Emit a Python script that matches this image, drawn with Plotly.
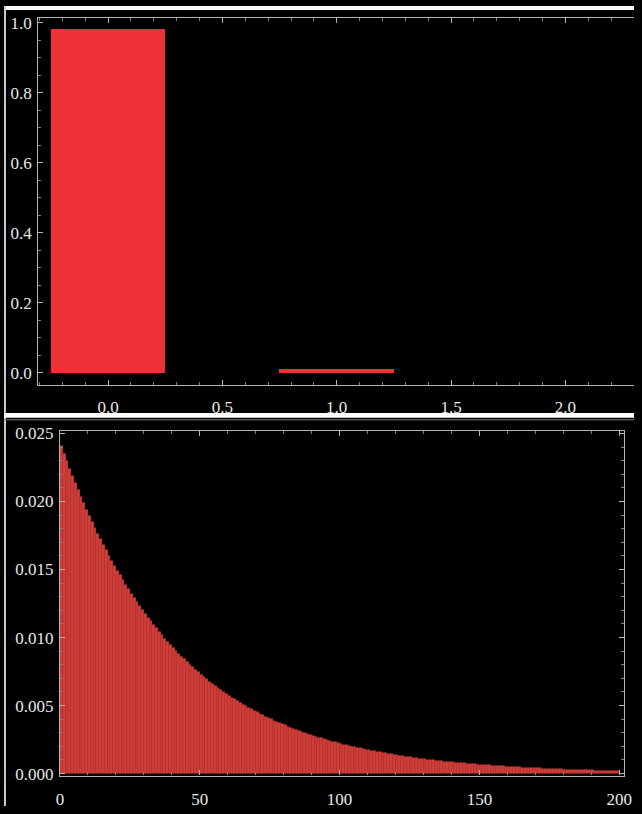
import plotly.graph_objects as go
from plotly.subplots import make_subplots

# ---- data ----
top_x = [0, 1]
top_y = [0.983, 0.011]

bottom_x = list(range(200))
bottom_y = [
    0.024100, 0.023531, 0.022976, 0.022434, 0.021905, 0.021388, 0.020883, 0.020390, 0.019909, 0.019439,
    0.018980, 0.018532, 0.018095, 0.017668, 0.017251, 0.016844, 0.016447, 0.016059, 0.015680, 0.015310,
    0.014949, 0.014596, 0.014252, 0.013916, 0.013588, 0.013267, 0.012954, 0.012648, 0.012350, 0.012059,
    0.011774, 0.011496, 0.011225, 0.010960, 0.010701, 0.010449, 0.010202, 0.009961, 0.009726, 0.009497,
    0.009273, 0.009054, 0.008840, 0.008631, 0.008427, 0.008228, 0.008034, 0.007844, 0.007659, 0.007478,
    0.007302, 0.007130, 0.006962, 0.006798, 0.006638, 0.006481, 0.006328, 0.006179, 0.006033, 0.005891,
    0.005752, 0.005616, 0.005484, 0.005355, 0.005229, 0.005106, 0.004986, 0.004868, 0.004753, 0.004641,
    0.004532, 0.004425, 0.004321, 0.004219, 0.004119, 0.004022, 0.003927, 0.003834, 0.003744, 0.003656,
    0.003570, 0.003486, 0.003404, 0.003324, 0.003246, 0.003169, 0.003094, 0.003021, 0.002950, 0.002880,
    0.002812, 0.002746, 0.002681, 0.002618, 0.002556, 0.002496, 0.002437, 0.002380, 0.002324, 0.002269,
    0.002216, 0.002164, 0.002113, 0.002063, 0.002014, 0.001966, 0.001920, 0.001875, 0.001831, 0.001788,
    0.001746, 0.001705, 0.001665, 0.001626, 0.001588, 0.001550, 0.001513, 0.001477, 0.001442, 0.001408,
    0.001375, 0.001343, 0.001311, 0.001280, 0.001250, 0.001221, 0.001192, 0.001164, 0.001136, 0.001109,
    0.001083, 0.001057, 0.001032, 0.001008, 0.000984, 0.000961, 0.000938, 0.000916, 0.000894, 0.000873,
    0.000852, 0.000832, 0.000812, 0.000793, 0.000774, 0.000756, 0.000738, 0.000721, 0.000704, 0.000687,
    0.000671, 0.000655, 0.000640, 0.000625, 0.000610, 0.000596, 0.000582, 0.000568, 0.000555, 0.000542,
    0.000529, 0.000517, 0.000505, 0.000493, 0.000481, 0.000470, 0.000459, 0.000448, 0.000437, 0.000427,
    0.000417, 0.000407, 0.000397, 0.000388, 0.000379, 0.000370, 0.000361, 0.000353, 0.000345, 0.000337,
    0.000329, 0.000321, 0.000313, 0.000306, 0.000299, 0.000292, 0.000285, 0.000278, 0.000271, 0.000265,
    0.000259, 0.000253, 0.000247, 0.000241, 0.000235, 0.000229, 0.000224, 0.000219, 0.000214, 0.000209,
]

top_yticks = [0.0, 0.2, 0.4, 0.6, 0.8, 1.0]
top_xticks = [0.0, 0.5, 1.0, 1.5, 2.0]
bot_yticks = [0.000, 0.005, 0.010, 0.015, 0.020, 0.025]
bot_xticks = [0, 50, 100, 150, 200]

W, H = 642, 814
FRAME = "#b4b4b4"
LABEL = "#e8e8e8"
FONT = dict(family="Liberation Serif, Times New Roman, serif", size=17, color=LABEL)

fig = make_subplots(rows=2, cols=1)

fig.add_trace(go.Bar(x=top_x, y=top_y, width=0.5, marker=dict(color="#ee3037", line=dict(width=0)),
                     showlegend=False), row=1, col=1)
fig.add_trace(go.Bar(x=bottom_x, y=bottom_y, width=1, offset=0,
                     marker=dict(color="#d03e39", line=dict(color="#a8302c", width=0.1)),
                     showlegend=False), row=2, col=1)

def px_x(p):
    return p / W

def px_y(p):
    return 1 - p / H

axis_common = dict(showline=True, linecolor=FRAME, linewidth=1.2, ticks="inside", tickcolor=FRAME,
                   ticklen=5, tickwidth=1, showgrid=False, zeroline=False, tickfont=FONT)
minor_common = dict(ticks="inside", ticklen=3, tickcolor="#808080", showgrid=False)

fig.update_layout(
    width=W, height=H, margin=dict(l=0, r=0, t=0, b=0),
    paper_bgcolor="black", plot_bgcolor="black", bargap=0,
    xaxis=dict(domain=[px_x(35), 1.0], range=[-0.305, 2.30], tickvals=top_xticks,
               ticktext=[f"{v:.1f}" for v in top_xticks], mirror="ticks",
               minor=dict(dtick=0.1, **minor_common), ticklabelstandoff=6, **axis_common),
    yaxis=dict(domain=[px_y(386), px_y(12)], range=[-0.0365, 1.014], tickvals=top_yticks,
               ticktext=[f"{v:.1f}" for v in top_yticks],
               minor=dict(dtick=0.05, **minor_common), ticklabelstandoff=2, **axis_common),
    xaxis2=dict(domain=[px_x(57), px_x(632)], range=[0, 201.75], tickvals=bot_xticks,
                ticktext=[str(v) for v in bot_xticks], mirror="ticks",
                minor=dict(dtick=10, **minor_common), ticklabelstandoff=8, **axis_common),
    yaxis2=dict(domain=[px_y(783), px_y(432)], range=[-0.000145, 0.025217], tickvals=bot_yticks,
                ticktext=[f"{v:.3f}" for v in bot_yticks], mirror="ticks",
                minor=dict(dtick=0.001, **minor_common), ticklabelstandoff=2, **axis_common),
)

# white borders and separator strip (as in the screenshot)
shapes = [
    dict(type="rect", xref="paper", yref="paper", x0=0, x1=1, y0=px_y(4), y1=1,
         fillcolor="white", line=dict(width=0), layer="above"),
    dict(type="rect", xref="paper", yref="paper", x0=0, x1=px_x(2), y0=0, y1=1,
         fillcolor="#cccccc", line=dict(width=0), layer="above"),
    dict(type="rect", xref="paper", yref="paper", x0=0, x1=1, y0=px_y(419), y1=px_y(414),
         fillcolor="white", line=dict(width=0), layer="above"),
    dict(type="line", xref="paper", yref="paper", x0=0, x1=1, y0=px_y(421), y1=px_y(421),
         line=dict(color="#777777", width=1), layer="above"),
]
fig.update_layout(shapes=shapes)

fig.write_html("out.html")
